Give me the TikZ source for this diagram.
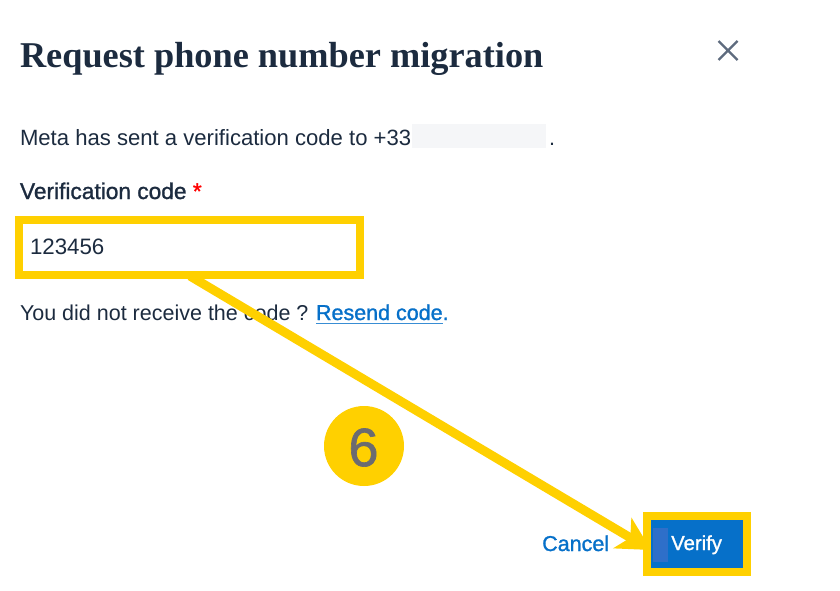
\documentclass[tikz,border=0pt]{standalone}
\usepackage{fontspec}
\setmainfont{Liberation Sans}
\newfontfamily\titlefont{Liberation Serif}
\newfontfamily\mediumfont[FakeBold=1.2]{Liberation Sans}
\usetikzlibrary{arrows.meta}
\definecolor{ink}{HTML}{1C2B3F}
\definecolor{closegrey}{HTML}{5E6B7E}
\definecolor{hl}{HTML}{FFD000}
\definecolor{linkblue}{HTML}{0670C9}
\definecolor{mask}{HTML}{F5F6F8}
\definecolor{patch}{HTML}{2E6FC9}
\definecolor{numgrey}{HTML}{6B6B70}
\tikzset{
  x=1pt,y=-1pt,
  txt/.style={anchor=base west,inner sep=0,outer sep=0,text=ink,font=\fontsize{21.5}{24}\selectfont},
  hlbox/.style={draw=hl,line width=8pt,inner sep=0,outer sep=0,minimum width=#1},
  link/.style={text=linkblue}
}
\begin{document}
\begin{tikzpicture}
\useasboundingbox (0,0) rectangle (840,590);
\fill[white] (0,0) rectangle (840,590);
\node[txt,font=\titlefont\bfseries\fontsize{36.3}{40}\selectfont] (title) at (20,67) {Request phone number migration};
\coordinate (xa) at (718.5,41);
\coordinate (xb) at (737.5,60);
\coordinate (xc) at (737.5,41);
\coordinate (xd) at (718.5,60);
\draw[closegrey,line width=2.4pt] (xa) -- (xb) (xc) -- (xd);
\node[txt,font=\fontsize{22.1}{24}\selectfont] (sent) at (20,145) {Meta has sent a verification code to +33};
\fill[mask] (412,124) rectangle (546,148);
\node[txt] (dot) at (549,145) {.};
\node[txt,font=\mediumfont\fontsize{22.7}{24}\selectfont] (label) at (20,199) {Verification code \textcolor{red}{*}};
\node[hlbox=341pt,minimum height=55pt,fill=white] (input) at (189.5,247.5) {};
\node[txt,font=\fontsize{22.3}{24}\selectfont] (code) at (30,254.5) {123456};
\node[txt] (noreceive) at (20,320) {You did not receive the code ?};
\node[txt,text=linkblue,font=\mediumfont\fontsize{21.5}{24}\selectfont] (resend) at (316,320) {Resend code.};
\coordinate (ula) at (316,323.5);
\coordinate (ulb) at (443,323.5);
\draw[linkblue!80,line width=1.5pt] (ula) -- (ulb);
\node[link,anchor=base west,inner sep=0,font=\mediumfont\fontsize{21.5}{24}\selectfont] (cancel) at (542,551) {Cancel};
\coordinate (arrowstart) at (190,276);
\coordinate (arrowend) at (651,550);
\draw[hl,line width=9pt,-{Stealth[length=33pt,width=35pt,inset=9pt]}] (arrowstart) -- (arrowend);
\node[hlbox=100pt,minimum height=56pt,fill=linkblue] (verify) at (697,544) {};
\fill[patch] (653,528) rectangle (668,562);
\node[anchor=base west,inner sep=0,text=white,font=\mediumfont\fontsize{20.3}{24}\selectfont] (verifytext) at (671,550) {Verify};
\node[circle,fill=hl,minimum size=80pt,inner sep=0] (six) at (364,446) {};
\node[inner sep=0,text=numgrey,font=\mediumfont\fontsize{54}{58}\selectfont] (sixtext) at (363.5,447.5) {6};
\end{tikzpicture}
\end{document}
